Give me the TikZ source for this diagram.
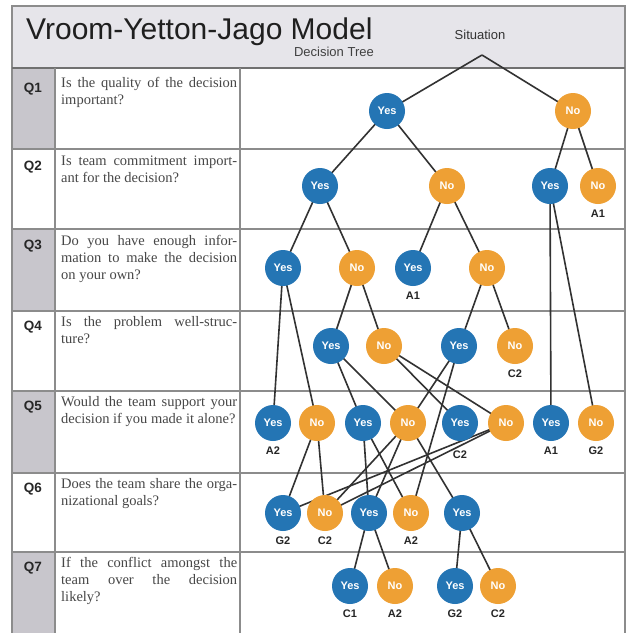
\documentclass[tikz,border=0pt]{standalone}
\usepackage{fontspec}
\setmainfont{Liberation Serif}
\setsansfont{Liberation Sans}
\newfontfamily\hel{Liberation Sans}
\definecolor{myblue}{RGB}{36,117,180}
\definecolor{myorange}{RGB}{238,160,52}
\definecolor{hdr}{RGB}{230,229,234}
\definecolor{qgray}{RGB}{200,198,204}
\definecolor{gridc}{RGB}{140,140,140}
\definecolor{edgec}{RGB}{50,50,50}
\pgfdeclarelayer{bg}
\pgfdeclarelayer{edges}
\pgfsetlayers{bg,edges,main}
\newcommand\jl[1]{\makebox[176pt][s]{#1}}
\tikzset{
  ynode/.style={circle, fill=myblue, minimum size=36pt, inner sep=0pt, text=white,
    font=\hel\bfseries\fontsize{11}{12}\selectfont},
  nnode/.style={circle, fill=myorange, minimum size=36pt, inner sep=0pt, text=white,
    font=\hel\bfseries\fontsize{11}{12}\selectfont},
  lab/.style={font=\hel\bfseries\fontsize{11}{12}\selectfont, text=black!85, label distance=2pt},
  qlab/.style={font=\hel\bfseries\fontsize{13.5}{15}\selectfont, text=black!85},
  qtext/.style={anchor=north west, inner sep=0pt, align=left, text=black!72,
    font=\fontsize{14.5}{17}\selectfont},
  gridline/.style={draw=gridc, line width=1.2pt},
  edge/.style={draw=edgec, line width=1.6pt},
}
\begin{document}
\begin{tikzpicture}[x=1pt,y=-1pt]
\useasboundingbox (0,0) rectangle (628,633);
\begin{pgfonlayer}{bg}
\fill[white] (0,0) rectangle (628,633);
\fill[hdr] (12,6) rectangle (625,68);
\foreach \a/\b in {68/149, 229/311, 391/473, 552/633}
  \fill[qgray] (12,\a) rectangle (55,\b);
\draw[gridline] (12,633) -- (12,6) -- (625,6) -- (625,633);
\draw[gridline, draw=gridc!80!black, line width=1.6pt] (12,68) -- (625,68);
\foreach \y in {149,229,311,391,473,552}
  \draw[gridline] (12,\y) -- (625,\y);
\draw[gridline] (55,68) -- (55,633);
\draw[gridline] (240,68) -- (240,633);
\end{pgfonlayer}

% header texts
\node[anchor=base west, inner sep=0pt, font=\hel\fontsize{30}{32}\selectfont, text=black!88] (title) at (26,39) {Vroom-Yetton-Jago Model};
\node[anchor=base east, inner sep=0pt, font=\hel\fontsize{13}{14}\selectfont, text=black!75] (sub) at (374,56) {Decision Tree};
\node[anchor=base, inner sep=0pt, font=\hel\fontsize{13}{14}\selectfont, text=black!80] (sitl) at (480,39) {Situation};
\coordinate (sit) at (482,55);

% question labels
\node[qlab] (Q1) at (33,89) {Q1};
\node[qlab] (Q2) at (33,167) {Q2};
\node[qlab] (Q3) at (33,246) {Q3};
\node[qlab] (Q4) at (33,327) {Q4};
\node[qlab] (Q5) at (33,407) {Q5};
\node[qlab] (Q6) at (33,489) {Q6};
\node[qlab] (Q7) at (33,568) {Q7};

% question texts
\node[qtext] (T1) at (61,77) {\jl{Is the quality of the decision}\\important?};
\node[qtext] (T2) at (61,156) {\jl{Is team commitment import-}\\ant for the decision?};
\node[qtext] (T3) at (61,235) {\jl{Do you have enough infor-}\\\jl{mation to make the decision}\\on your own?};
\node[qtext] (T4) at (61,316) {\jl{Is the problem well-struc-}\\ture?};
\node[qtext] (T5) at (61,396) {\jl{Would the team support your}\\decision if you made it alone?};
\node[qtext] (T6) at (61,478) {\jl{Does the team share the orga-}\\nizational goals?};
\node[qtext] (T7) at (61,557) {\jl{If the conflict amongst the}\\\jl{team over the decision}\\likely?};

% tree nodes
\node[ynode] (q1y) at (387,111) {Yes};
\node[nnode] (q1n) at (573,111) {No};

\node[ynode] (q2a) at (320,186) {Yes};
\node[nnode] (q2b) at (447,186) {No};
\node[ynode] (q2c) at (550,186) {Yes};
\node[nnode, label={[lab]below:A1}] (q2d) at (598,186) {No};

\node[ynode] (q3a) at (283,268) {Yes};
\node[nnode] (q3b) at (357,268) {No};
\node[ynode, label={[lab]below:A1}] (q3c) at (413,268) {Yes};
\node[nnode] (q3d) at (487,268) {No};

\node[ynode] (q4a) at (331,346) {Yes};
\node[nnode] (q4b) at (384,346) {No};
\node[ynode] (q4c) at (459,346) {Yes};
\node[nnode, label={[lab]below:C2}] (q4d) at (515,346) {No};

\node[ynode, label={[lab]below:A2}] (q5a) at (273,423) {Yes};
\node[nnode] (q5b) at (317,423) {No};
\node[ynode] (q5c) at (363,423) {Yes};
\node[nnode] (q5d) at (408,423) {No};
\node[ynode, label={[lab, label distance=6pt]below:C2}] (q5e) at (460,423) {Yes};
\node[nnode] (q5f) at (506,423) {No};
\node[ynode, label={[lab]below:A1}] (q5g) at (551,423) {Yes};
\node[nnode, label={[lab]below:G2}] (q5h) at (596,423) {No};

\node[ynode, label={[lab]below:G2}] (q6a) at (283,513) {Yes};
\node[nnode, label={[lab]below:C2}] (q6b) at (325,513) {No};
\node[ynode] (q6c) at (369,513) {Yes};
\node[nnode, label={[lab]below:A2}] (q6d) at (411,513) {No};
\node[ynode] (q6e) at (462,513) {Yes};

\node[ynode, label={[lab]below:C1}] (q7a) at (350,586) {Yes};
\node[nnode, label={[lab]below:A2}] (q7b) at (395,586) {No};
\node[ynode, label={[lab]below:G2}] (q7c) at (455,586) {Yes};
\node[nnode, label={[lab]below:C2}] (q7d) at (498,586) {No};

\begin{pgfonlayer}{edges}
\foreach \s/\t in {sit/q1y, sit/q1n,
  q1y/q2a, q1y/q2b, q1n/q2c, q1n/q2d,
  q2a/q3a, q2a/q3b, q2b/q3c, q2b/q3d, q2c/q5g, q2c/q5h,
  q3a/q5a, q3a/q5b, q3b/q4a, q3b/q4b, q3d/q4c, q3d/q4d,
  q4a/q5c, q4a/q5d, q4b/q5e, q4b/q5f, q4c/q5d, q4c/q6d,
  q5b/q6a, q5b/q6b, q5c/q6c, q5c/q6d, q5d/q6b, q5d/q6c, q5d/q6e,
  q5f/q6a, q5f/q6b,
  q6c/q7a, q6c/q7b, q6e/q7c, q6e/q7d}
  \draw[edge] (\s.center) -- (\t.center);
\end{pgfonlayer}
\end{tikzpicture}
\end{document}
